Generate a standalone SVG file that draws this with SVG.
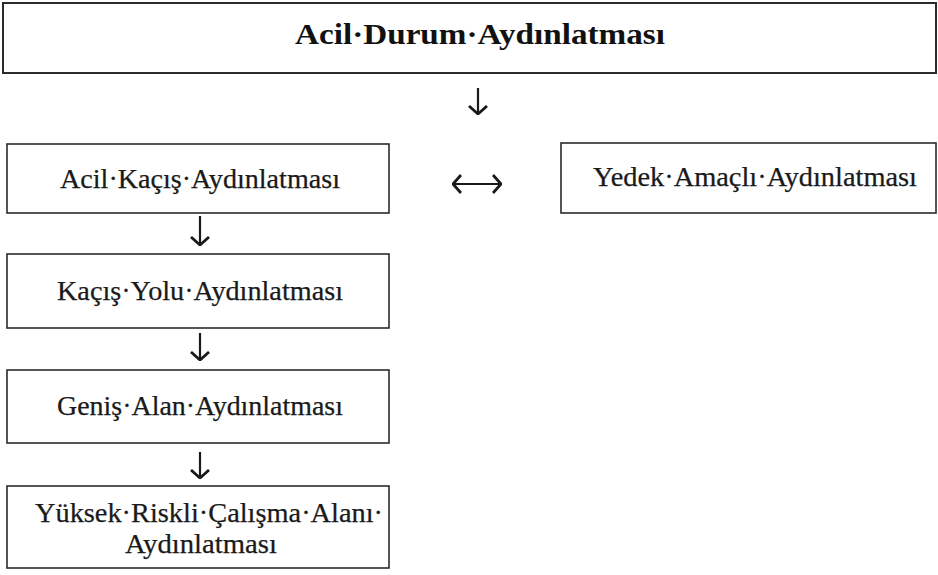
<svg xmlns="http://www.w3.org/2000/svg" width="938" height="575" viewBox="0 0 938 575">
<style>
  .box { fill: #ffffff; stroke: #2b2b2b; stroke-width: 1.6; }
  .t { font-family: "Liberation Serif", "Times New Roman", serif; font-size: 27px; fill: #1a1a1a; stroke: #1a1a1a; stroke-width: 0.25; text-anchor: middle; }
  .tb { font-family: "Liberation Serif", "Times New Roman", serif; font-size: 29px; font-weight: bold; fill: #111111; text-anchor: middle; }
  .ar { stroke: #1a1a1a; stroke-width: 2.2; fill: none; }
</style>
<defs>
  <marker id="chev" viewBox="0 0 10 20" refX="9" refY="10" markerWidth="10" markerHeight="20" markerUnits="userSpaceOnUse" orient="auto-start-reverse">
    <path d="M1,1 L9,10 L1,19" fill="none" stroke="#1a1a1a" stroke-width="2.8" stroke-linejoin="miter"/>
  </marker>
</defs>
<rect width="938" height="575" fill="#ffffff"/>
<g id="node-acil-durum">
  <rect class="box" x="3" y="3" width="933" height="70" style="stroke-width:2"/>
  <text class="tb" x="480" y="44" textLength="370" lengthAdjust="spacingAndGlyphs">Acil·Durum·Aydınlatması</text>
</g>
<g id="node-acil-kacis">
  <rect class="box" x="7" y="144" width="382" height="69"/>
  <text class="t" x="200" y="188" textLength="280" lengthAdjust="spacingAndGlyphs">Acil·Kaçış·Aydınlatması</text>
</g>
<g id="node-yedek">
  <rect class="box" x="561" y="143" width="375" height="70"/>
  <text class="t" x="755" y="186" textLength="324" lengthAdjust="spacingAndGlyphs">Yedek·Amaçlı·Aydınlatması</text>
</g>
<g id="node-kacis-yolu">
  <rect class="box" x="7" y="254" width="382" height="74"/>
  <text class="t" x="200" y="300" textLength="286" lengthAdjust="spacingAndGlyphs">Kaçış·Yolu·Aydınlatması</text>
</g>
<g id="node-genis-alan">
  <rect class="box" x="7" y="370" width="382" height="73"/>
  <text class="t" x="200" y="415" textLength="286" lengthAdjust="spacingAndGlyphs">Geniş·Alan·Aydınlatması</text>
</g>
<g id="node-yuksek-riskli">
  <rect class="box" x="7" y="486" width="382" height="82"/>
  <text class="t" x="209" y="522" textLength="348" lengthAdjust="spacingAndGlyphs">Yüksek·Riskli·Çalışma·Alanı·</text>
  <text class="t" x="201" y="553" textLength="152" lengthAdjust="spacingAndGlyphs">Aydınlatması</text>
</g>
<g id="connectors">
  <line class="ar" x1="478" y1="88" x2="478" y2="114" marker-end="url(#chev)"/>
  <line class="ar" x1="453" y1="184" x2="501" y2="184" marker-start="url(#chev)" marker-end="url(#chev)"/>
  <line class="ar" x1="200" y1="216" x2="200" y2="245" marker-end="url(#chev)"/>
  <line class="ar" x1="200" y1="333" x2="200" y2="360" marker-end="url(#chev)"/>
  <line class="ar" x1="200" y1="452" x2="200" y2="478" marker-end="url(#chev)"/>
</g>
</svg>
